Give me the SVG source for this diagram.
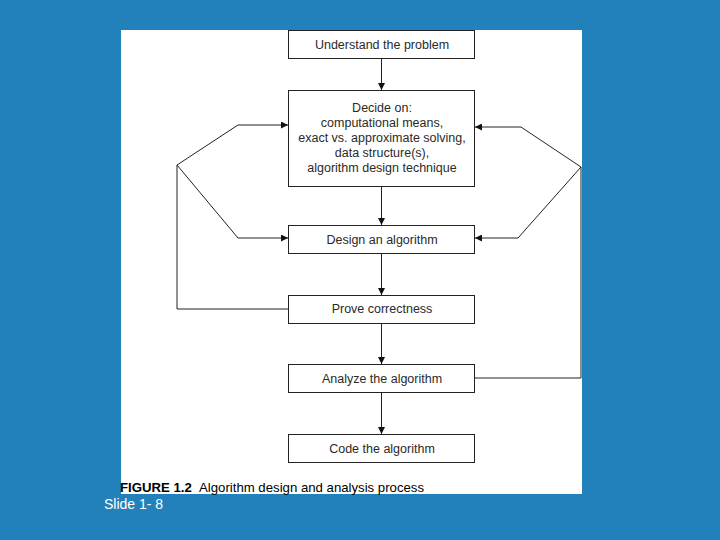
<svg xmlns="http://www.w3.org/2000/svg" width="720" height="540" viewBox="0 0 720 540">
<style>
.box{fill:#fff;stroke:#222;stroke-width:1}
.t{font-family:"Liberation Sans",Arial,sans-serif;font-size:12.5px;fill:#2a2a2a;text-anchor:middle}
.ln{fill:none;stroke:#222;stroke-width:1}
</style>
<defs>
<marker id="ah" viewBox="0 0 10 10" refX="10" refY="5" markerWidth="7" markerHeight="7" markerUnits="userSpaceOnUse" orient="auto">
<path d="M0,0 L10,5 L0,10 z" fill="#111"/>
</marker>
</defs>
<rect x="0" y="0" width="720" height="540" fill="#2281BA"/>
<rect x="121" y="30" width="461" height="464" fill="#fff"/>
<g id="connectors">
<line class="ln" x1="381.5" y1="58" x2="381.5" y2="90" marker-end="url(#ah)"/>
<line class="ln" x1="381.5" y1="187" x2="381.5" y2="225" marker-end="url(#ah)"/>
<line class="ln" x1="381.5" y1="254" x2="381.5" y2="295" marker-end="url(#ah)"/>
<line class="ln" x1="381.5" y1="324" x2="381.5" y2="364" marker-end="url(#ah)"/>
<line class="ln" x1="381.5" y1="393" x2="381.5" y2="434" marker-end="url(#ah)"/>
<polyline class="ln" points="288,309 177,309 177,165"/>
<polyline class="ln" points="177,165 238,125 288,125" marker-end="url(#ah)"/>
<polyline class="ln" points="177,165 238,238 288,238" marker-end="url(#ah)"/>
<polyline class="ln" points="475,378 581,378 581,167"/>
<polyline class="ln" points="581,167 521,127 475,127" marker-end="url(#ah)"/>
<polyline class="ln" points="581,167 518,238 475,238" marker-end="url(#ah)"/>
</g>
<g id="understand">
<rect class="box" x="288.5" y="30.5" width="186" height="28"/>
<text class="t" x="382" y="48.5">Understand the problem</text>
</g>
<g id="decide">
<rect class="box" x="288.5" y="90.5" width="186" height="96"/>
<text class="t" x="382" y="112">Decide on:</text>
<text class="t" x="382" y="127">computational means,</text>
<text class="t" x="382" y="142">exact vs. approximate solving,</text>
<text class="t" x="382" y="157">data structure(s),</text>
<text class="t" x="382" y="172">algorithm design technique</text>
</g>
<g id="design">
<rect class="box" x="288.5" y="225.5" width="186" height="28"/>
<text class="t" x="382" y="243.5">Design an algorithm</text>
</g>
<g id="prove">
<rect class="box" x="288.5" y="295.5" width="186" height="28"/>
<text class="t" x="382" y="312.5">Prove correctness</text>
</g>
<g id="analyze">
<rect class="box" x="288.5" y="364.5" width="186" height="28"/>
<text class="t" x="382" y="382.5">Analyze the algorithm</text>
</g>
<g id="code">
<rect class="box" x="288.5" y="434.5" width="186" height="28"/>
<text class="t" x="382" y="452.5">Code the algorithm</text>
</g>
<text x="120" y="492" font-family="Liberation Sans,Arial,sans-serif" font-size="13.2" fill="#000"><tspan font-weight="bold">FIGURE 1.2</tspan><tspan x="199">Algorithm design and analysis process</tspan></text>
<text x="104" y="509" font-family="Liberation Sans,Arial,sans-serif" font-size="14" fill="#fff">Slide 1- 8</text>
</svg>
